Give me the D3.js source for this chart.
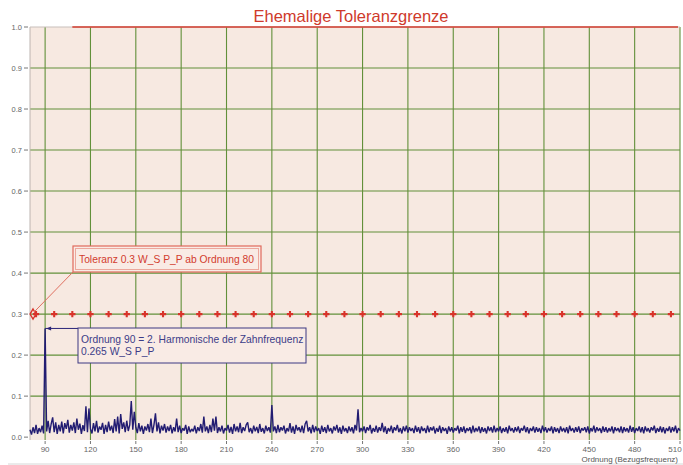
<!DOCTYPE html>
<html>
<head>
<meta charset="utf-8">
<script src="https://cdn.jsdelivr.net/npm/d3@7"></script>
<style>
  html, body { margin: 0; padding: 0; background: #fff; }
  svg { display: block; font-family: "Liberation Sans", Arial, sans-serif; }
</style>
</head>
<body>
<div id="chart"></div>
<script>
const firstOrder = 80;
// spectrum amplitude per order (80..510), in thousandths of W_S P_P
const spectrumMilli = [
  18,6,24,10,30,8,22,12,28,9,
  265,14,40,10,32,48,12,36,8,30,
  14,38,9,34,20,42,11,30,16,36,
  10,45,18,33,8,29,15,75,12,70,
  20,9,34,14,40,11,26,18,35,8,
  30,12,38,16,28,10,44,14,50,9,
  56,20,36,12,40,15,30,88,18,62,
  24,10,34,14,28,8,26,16,32,12,
  45,10,30,58,14,36,9,28,16,32,
  11,26,15,30,9,24,14,45,12,28,
  10,22,16,30,8,26,12,20,14,28,
  9,24,15,32,11,50,14,26,10,30,
  12,45,16,50,10,24,14,28,9,22,
  16,30,11,25,8,32,14,26,12,35,
  10,24,15,30,36,12,22,9,28,14,
  25,10,32,13,22,9,28,15,24,11,
  78,14,26,10,30,12,24,16,28,9,
  22,14,34,11,26,8,30,16,24,12,
  28,10,32,40,14,24,9,30,12,26,
  15,22,8,28,13,24,10,30,14,22,
  9,26,16,30,11,24,8,28,14,22,
  10,26,14,24,9,30,16,68,12,22,
  14,26,10,24,16,30,9,22,13,28,
  11,24,15,35,12,26,8,22,14,28,
  10,24,16,30,12,22,9,26,14,28,
  11,24,15,22,10,28,13,24,9,26,
  15,22,10,28,12,24,16,26,9,22,
  13,28,10,24,15,22,8,26,14,24,
  11,22,16,28,9,24,13,26,10,22,
  15,24,9,28,12,22,14,26,10,24,
  13,22,9,26,15,24,11,28,12,22,
  14,26,10,22,13,24,9,28,15,22,
  11,24,14,26,10,22,16,28,12,24,
  9,22,15,26,11,24,13,22,10,28,
  14,24,11,22,15,26,9,24,13,22,
  10,26,14,22,12,24,9,28,15,22,
  11,24,13,26,10,22,16,24,12,26,
  9,22,14,28,11,24,15,22,10,26,
  13,24,11,22,14,26,9,24,15,22,
  12,26,10,24,14,22,11,28,13,24,
  10,22,15,26,12,24,9,26,14,22,
  11,24,16,28,10,22,13,26,12,24,
  9,22,15,26,11,24,14,28,10,22,16
];

const toleranceValue = 0.3;
const toleranceStart = 82;
const toleranceOrders = [84, 96, 108, 120, 132, 144, 156, 168, 180, 192, 204, 216,
  228, 240, 252, 264, 276, 288, 300, 312, 324, 336, 348, 360, 372, 384, 396, 408,
  420, 432, 444, 456, 468, 480, 492, 504];

const formerLimit = { from: 108, to: 510, value: 1.0 };
const peak = { order: 90, value: 0.265 };

const xTicks = [90, 120, 150, 180, 210, 240, 270, 300, 330, 360, 390, 420, 450, 480, 510];
const yTicks = [0.0, 0.1, 0.2, 0.3, 0.4, 0.5, 0.6, 0.7, 0.8, 0.9, 1.0];

const title = 'Ehemalige Toleranzgrenze';
const xLabel = 'Ordnung (Bezugsfrequenz)';
const toleranceNote = 'Toleranz 0.3 W_S P_P ab Ordnung 80';
const peakNote = ['Ordnung 90 = 2. Harmonische der Zahnfrequenz', '0.265 W_S P_P'];

const width = 683;
const height = 465;
const plot = { left: 30, right: 680, top: 27, bottom: 440 };

const x = d3.scaleLinear().domain([80, 510]).range([plot.left, plot.right]);
const y = d3.scaleLinear().domain([-0.007, 1]).range([plot.bottom, plot.top]);

const svg = d3.select('#chart')
  .append('svg')
  .attr('width', width)
  .attr('height', height);

svg.append('rect')
  .attr('x', plot.left)
  .attr('y', plot.top)
  .attr('width', plot.right - plot.left)
  .attr('height', plot.bottom - plot.top)
  .attr('fill', '#f7e9e1');

// grid
svg.selectAll('line.vgrid')
  .data(xTicks)
  .enter()
  .append('line')
  .attr('class', 'vgrid')
  .attr('x1', d => x(d)).attr('x2', d => x(d))
  .attr('y1', plot.top).attr('y2', plot.bottom)
  .attr('stroke', '#62903a')
  .attr('stroke-width', 1.1);

svg.selectAll('line.hgrid')
  .data(yTicks.filter(d => d > 0 && d < 1))
  .enter()
  .append('line')
  .attr('class', 'hgrid')
  .attr('x1', plot.left).attr('x2', plot.right)
  .attr('y1', d => y(d)).attr('y2', d => y(d))
  .attr('stroke', '#62903a')
  .attr('stroke-width', 1.1);

// frame
svg.append('line')
  .attr('x1', plot.left).attr('x2', plot.left)
  .attr('y1', plot.top).attr('y2', plot.bottom)
  .attr('stroke', '#bdb4b0');
svg.append('line')
  .attr('x1', plot.left).attr('x2', plot.right)
  .attr('y1', plot.top).attr('y2', plot.top)
  .attr('stroke', '#c8bfbb');

// former limit
svg.append('line')
  .attr('x1', x(formerLimit.from)).attr('x2', x(formerLimit.to) - 2)
  .attr('y1', y(formerLimit.value)).attr('y2', y(formerLimit.value))
  .attr('stroke', '#d23c2e')
  .attr('stroke-width', 1.6);

svg.append('text')
  .attr('x', 351)
  .attr('y', 22)
  .attr('text-anchor', 'middle')
  .style('font-size', '16.5px')
  .style('fill', '#cf3a2c')
  .text(title);

// y axis ticks
const yAxis = svg.append('g');
yAxis.selectAll('text')
  .data(yTicks)
  .enter()
  .append('text')
  .attr('x', 22)
  .attr('y', d => y(d))
  .attr('dy', '0.35em')
  .attr('text-anchor', 'end')
  .style('font-size', '7.5px')
  .style('fill', '#666')
  .text(d => d3.format('.1f')(d));
yAxis.selectAll('line')
  .data(yTicks)
  .enter()
  .append('line')
  .attr('x1', 24).attr('x2', 28)
  .attr('y1', d => y(d)).attr('y2', d => y(d))
  .attr('stroke', '#777');

// x axis ticks
const xAxis = svg.append('g');
xAxis.selectAll('text')
  .data(xTicks)
  .enter()
  .append('text')
  .attr('x', d => Math.min(x(d), width - 8))
  .attr('y', 452)
  .attr('text-anchor', 'middle')
  .style('font-size', '8px')
  .style('fill', '#666')
  .text(d => d);
xAxis.selectAll('line')
  .data(xTicks)
  .enter()
  .append('line')
  .attr('x1', d => x(d)).attr('x2', d => x(d))
  .attr('y1', 441).attr('y2', 444)
  .attr('stroke', '#777');

svg.append('line')
  .attr('x1', 8).attr('x2', width)
  .attr('y1', 464).attr('y2', 464)
  .attr('stroke', '#d6d6d6');

svg.append('text')
  .attr('x', 678)
  .attr('y', 462)
  .attr('text-anchor', 'end')
  .style('font-size', '8px')
  .style('fill', '#555')
  .text(xLabel);

// spectrum
const spectrum = spectrumMilli.map((v, i) => ({ order: firstOrder + i, value: v / 1000 }));
const line = d3.line()
  .x(d => x(d.order))
  .y(d => y(d.value));

svg.append('path')
  .datum(spectrum)
  .attr('d', line)
  .attr('fill', 'none')
  .attr('stroke', '#221c72')
  .attr('stroke-width', 1.4)
  .attr('stroke-linejoin', 'bevel');

// tolerance markers
svg.append('path')
  .attr('d', d3.symbol(d3.symbolDiamond, 30)())
  .attr('transform', `translate(${x(toleranceStart)}, ${y(toleranceValue)})`)
  .attr('fill', 'none')
  .attr('stroke', '#d8332a')
  .attr('stroke-width', 1.4);

svg.selectAll('path.tol')
  .data(toleranceOrders)
  .enter()
  .append('path')
  .attr('class', 'tol')
  .attr('d', d3.symbol(d3.symbolCross, 22)())
  .attr('transform', d => `translate(${x(d)}, ${y(toleranceValue)})`)
  .attr('fill', '#d8332a');

// tolerance annotation
svg.append('line')
  .attr('x1', 73).attr('y1', 272)
  .attr('x2', x(toleranceStart) + 1).attr('y2', y(toleranceValue) - 2)
  .attr('stroke', '#e07060')
  .attr('stroke-width', 1);
svg.append('rect')
  .attr('x', 73).attr('y', 246)
  .attr('width', 188).attr('height', 26)
  .attr('fill', '#f9ebe5')
  .attr('stroke', '#e06a5c')
  .attr('stroke-width', 1.2);
svg.append('rect')
  .attr('x', 75.5).attr('y', 248.5)
  .attr('width', 183).attr('height', 21)
  .attr('fill', 'none')
  .attr('stroke', '#eca79c')
  .attr('stroke-width', 1);
svg.append('text')
  .attr('x', 79)
  .attr('y', 262.5)
  .style('font-size', '10.3px')
  .style('fill', '#d23c2e')
  .text(toleranceNote);

// peak annotation
svg.append('line')
  .attr('x1', x(peak.order)).attr('x2', 78)
  .attr('y1', y(peak.value)).attr('y2', y(peak.value))
  .attr('stroke', '#2a2478')
  .attr('stroke-width', 1);
svg.append('path')
  .attr('d', `M${x(peak.order) + 1},${y(peak.value)} l5,-2 l0,4 z`)
  .attr('fill', '#2a2478');
svg.append('rect')
  .attr('x', 78).attr('y', 328)
  .attr('width', 228).attr('height', 35)
  .attr('fill', '#f9ebe5')
  .attr('stroke', '#3c3882')
  .attr('stroke-width', 1);
svg.append('text')
  .selectAll('tspan')
  .data(peakNote)
  .enter()
  .append('tspan')
  .attr('x', 81)
  .attr('y', (d, i) => 343 + i * 12)
  .style('font-size', '10.3px')
  .style('fill', '#3c3c88')
  .text(d => d);
</script>
</body>
</html>
